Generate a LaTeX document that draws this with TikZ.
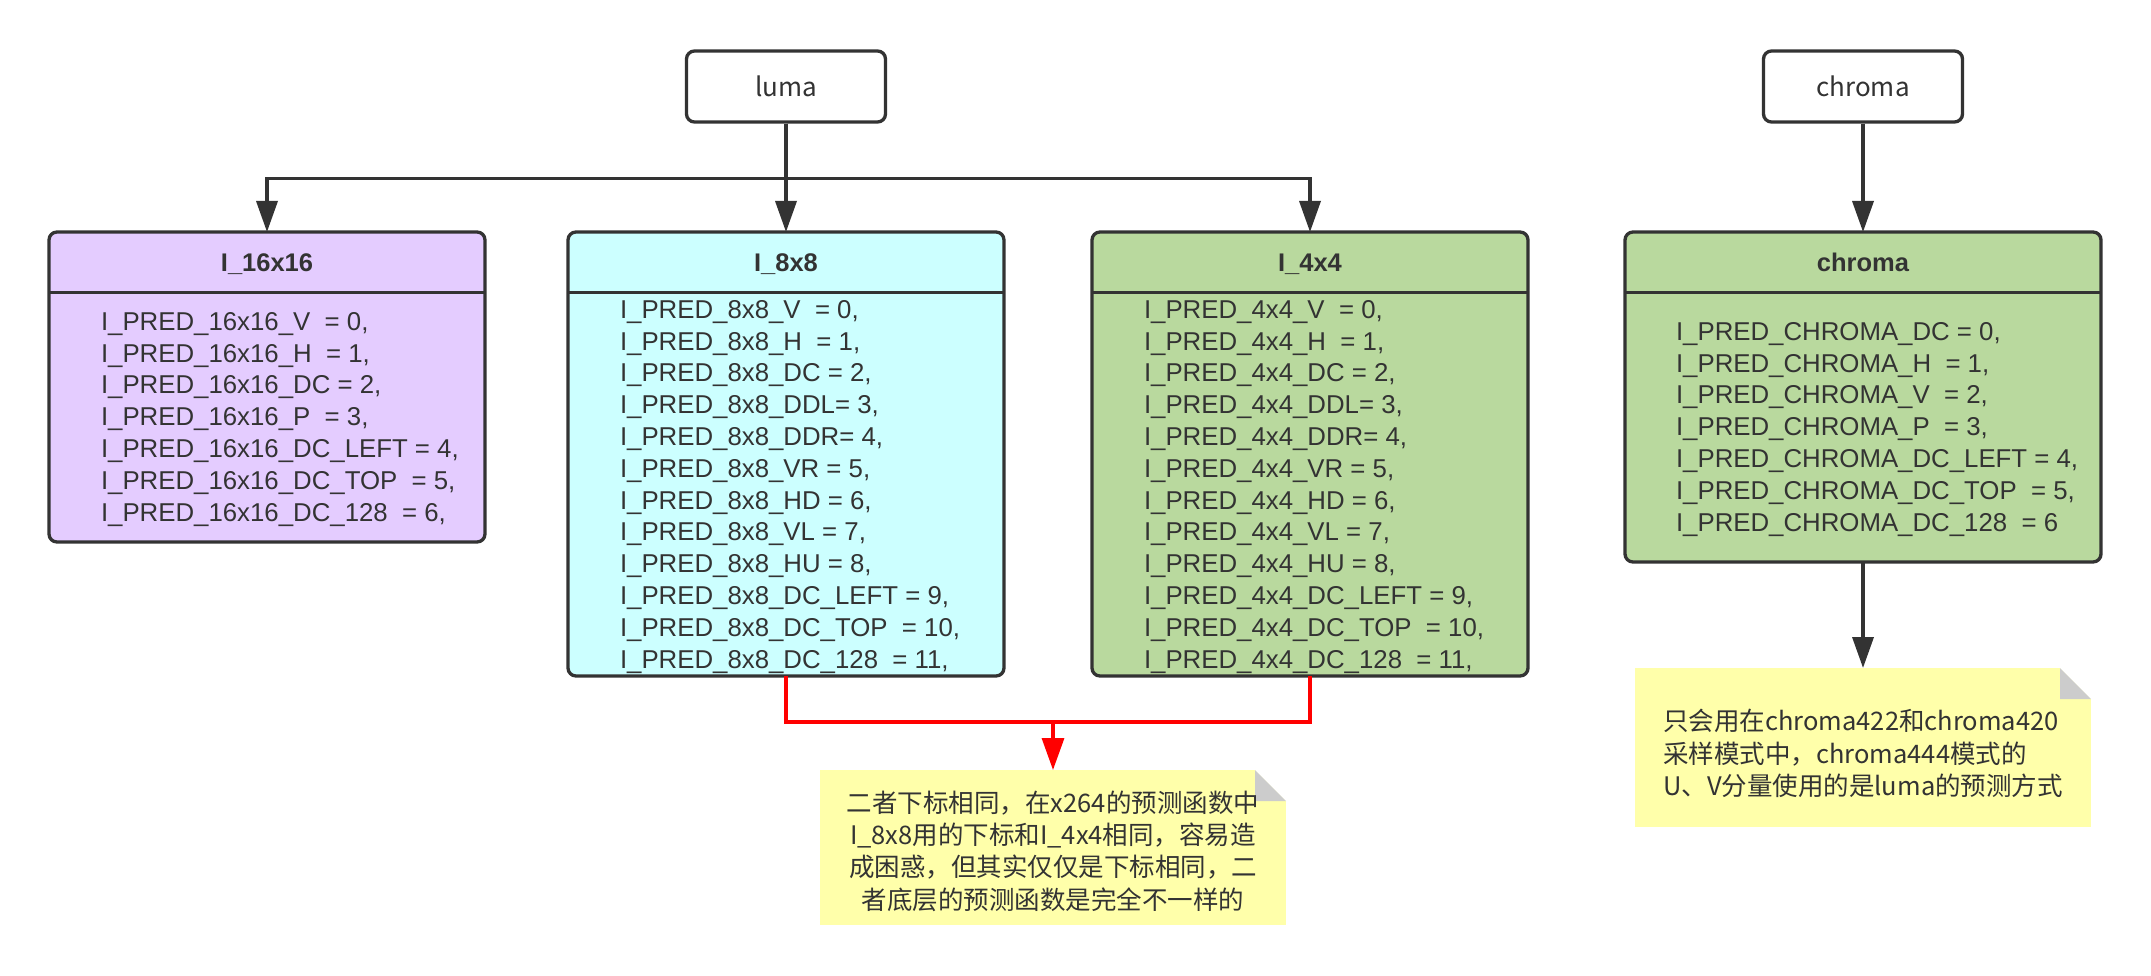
\documentclass[tikz,border=0pt]{standalone}
\usepackage{fontspec}
\setmainfont{Liberation Sans}
\newfontfamily\cjk{Noto Sans CJK SC}
\usepackage{tikz}
\usetikzlibrary{arrows.meta,positioning}

\definecolor{ink}{HTML}{333333}
\definecolor{lilac}{HTML}{E4CCFF}
\definecolor{aqua}{HTML}{CCFFFF}
\definecolor{leaf}{HTML}{B9D99E}
\definecolor{memo}{HTML}{FFFFAA}
\definecolor{fold}{HTML}{CCCCCC}

\tikzset{
  frame/.style={draw=ink,line width=3.3pt,rounded corners=8pt},
  bus/.style={draw=ink,line width=3.5pt},
  conn/.style={bus,-{Triangle[width=21pt,length=31pt]}},
  redbus/.style={draw=red,line width=3.3pt},
  redconn/.style={redbus,-{Triangle[width=22pt,length=32pt]}},
}

\begin{document}
\begin{tikzpicture}[x=1pt,y=-1pt,
  src/.style={frame,fill=white,minimum width=199pt,minimum height=71pt,text=ink,font=\cjk\fontsize{26}{30}\selectfont},
  classbox/.style={rounded corners=8pt,minimum width=436pt,inner sep=0pt,outer sep=0pt},
  head/.style={minimum width=436pt,minimum height=60pt,inner sep=0pt,text height=18pt,text depth=-6pt,text=ink,font=\bfseries\fontsize{25.5}{30}\selectfont},
  body/.style={align=left,inner sep=0pt,text=ink,font=\fontsize{25.8}{31.8}\selectfont,execute at begin node=\strut},
  note/.style={fill=memo,inner sep=0pt,text=ink,font=\cjk\fontsize{25.5}{32.3}\selectfont,
    path picture={
      \fill[white] (path picture bounding box.north east) -- ++(-31pt,0pt) -- ++(31pt,-31pt) -- cycle;
      \fill[fold] (path picture bounding box.north east) ++(-31pt,0pt) -- ++(31pt,-31pt) -- ++(-31pt,0pt) -- cycle;
    }},
]
\useasboundingbox (0,0) rectangle (2151,976);
\fill[white] (0,0) rectangle (2151,976);

% sources
\node[src] (lu) at (786,86.5) {luma};
\node[src] (ch) at (1863,86.5) {chroma};

% mode tables
\node[classbox,fill=lilac,minimum height=310pt] (m16) at (267,387) {};
\node[classbox,fill=aqua,minimum height=444pt] (m8) at (786,454) {};
\node[classbox,fill=leaf,minimum height=444pt] (m4) at (1310,454) {};
\node[classbox,fill=leaf,minimum width=476pt,minimum height=330pt] (mc) at (1863,397) {};

\node[head,below=0pt of m16.north] (h16) {I\_16x16};
\node[head,below=0pt of m8.north] (h8) {I\_8x8};
\node[head,below=0pt of m4.north] (h4) {I\_4x4};
\node[head,minimum width=476pt,below=0pt of mc.north] (hc) {chroma};

\node[body,below right=19.7pt and 52pt of h16.south west] (t16) {%
I\_PRED\_16x16\_V\ \ = 0,\\
I\_PRED\_16x16\_H\ \ = 1,\\
I\_PRED\_16x16\_DC = 2,\\
I\_PRED\_16x16\_P\ \ = 3,\\
I\_PRED\_16x16\_DC\_LEFT = 4,\\
I\_PRED\_16x16\_DC\_TOP\ \ = 5,\\
I\_PRED\_16x16\_DC\_128\ \ = 6,};
\node[body,below right=7.7pt and 52pt of h8.south west] (t8) {%
I\_PRED\_8x8\_V\ \ = 0,\\
I\_PRED\_8x8\_H\ \ = 1,\\
I\_PRED\_8x8\_DC = 2,\\
I\_PRED\_8x8\_DDL= 3,\\
I\_PRED\_8x8\_DDR= 4,\\
I\_PRED\_8x8\_VR = 5,\\
I\_PRED\_8x8\_HD = 6,\\
I\_PRED\_8x8\_VL = 7,\\
I\_PRED\_8x8\_HU = 8,\\
I\_PRED\_8x8\_DC\_LEFT = 9,\\
I\_PRED\_8x8\_DC\_TOP\ \ = 10,\\
I\_PRED\_8x8\_DC\_128\ \ = 11,};
\node[body,below right=7.7pt and 52pt of h4.south west] (t4) {%
I\_PRED\_4x4\_V\ \ = 0,\\
I\_PRED\_4x4\_H\ \ = 1,\\
I\_PRED\_4x4\_DC = 2,\\
I\_PRED\_4x4\_DDL= 3,\\
I\_PRED\_4x4\_DDR= 4,\\
I\_PRED\_4x4\_VR = 5,\\
I\_PRED\_4x4\_HD = 6,\\
I\_PRED\_4x4\_VL = 7,\\
I\_PRED\_4x4\_HU = 8,\\
I\_PRED\_4x4\_DC\_LEFT = 9,\\
I\_PRED\_4x4\_DC\_TOP\ \ = 10,\\
I\_PRED\_4x4\_DC\_128\ \ = 11,};
\node[body,below right=29.7pt and 51pt of hc.south west] (tc) {%
I\_PRED\_CHROMA\_DC = 0,\\
I\_PRED\_CHROMA\_H\ \ = 1,\\
I\_PRED\_CHROMA\_V\ \ = 2,\\
I\_PRED\_CHROMA\_P\ \ = 3,\\
I\_PRED\_CHROMA\_DC\_LEFT = 4,\\
I\_PRED\_CHROMA\_DC\_TOP\ \ = 5,\\
I\_PRED\_CHROMA\_DC\_128\ \ = 6};

\foreach \b/\h in {m16/h16,m8/h8,m4/h4,mc/hc} {
  \draw[frame] (\b.north west) rectangle (\b.south east);
  \draw[frame] (\b.west |- \h.south) -- (\b.east |- \h.south);
}

% notes
\coordinate (rbus) at (1053,722);
\node[note,minimum width=466pt,minimum height=155pt,align=center,below=48pt of rbus] (n1) {%
\rule{0pt}{28pt}二者下标相同，在x264的预测函数中\\
I\_8x8用的下标和I\_4x4相同，容易造\\
成困惑，但其实仅仅是下标相同，二\\
者底层的预测函数是完全不一样的};
\node[note,minimum width=456pt,minimum height=159pt,align=left,below=106pt of mc] (n2) {%
\rule{0pt}{33pt}只会用在chroma422和chroma420\\
采样模式中，chroma444模式的\\
U、V分量使用的是luma的预测方式};

% connectors
\draw[conn] (lu) -- (m8);
\draw[conn] (lu.south) -- ++(0,55) -| (m16.north);
\draw[conn] (lu.south) -- ++(0,55) -| (m4.north);
\draw[conn] (ch) -- (mc);
\draw[conn] (mc) -- (n2);
\draw[redbus] (m8.south) |- (rbus) -| (m4.south);
\draw[redconn] (rbus) -- (n1);
\end{tikzpicture}
\end{document}
